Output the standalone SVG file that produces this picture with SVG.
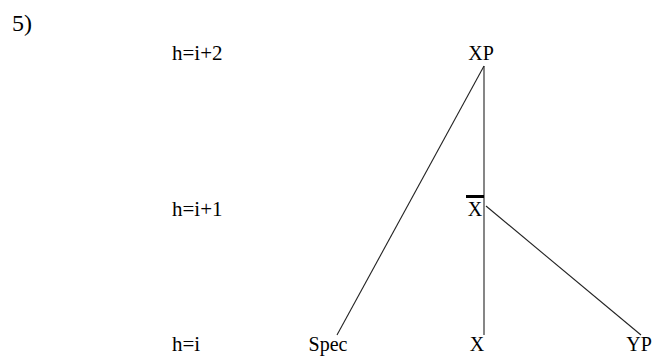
<svg xmlns="http://www.w3.org/2000/svg" width="655" height="356" viewBox="0 0 655 356">
<style>
text{font-family:"Liberation Serif","Times New Roman",serif;fill:#000}
.lvl{font-size:21px}
.n{font-size:20px;text-anchor:middle}
.e{stroke:#222;stroke-width:1.1;fill:none}
</style>
<rect width="655" height="356" fill="#fff"/>
<text x="12" y="31" style="font-size:24px">5)</text>
<g id="levels">
<text class="lvl" x="172" y="60">h=i+2</text>
<text class="lvl" x="172" y="216">h=i+1</text>
<text class="lvl" x="172" y="351">h=i</text>
</g>
<g id="connectors">
<line class="e" x1="484" y1="66" x2="484" y2="335"/>
<line class="e" x1="484" y1="66" x2="337" y2="335"/>
<line class="e" x1="486" y1="206" x2="641" y2="335"/>
</g>
<g id="XP"><text class="n" x="481" y="60">XP</text></g>
<g id="Xbar"><rect x="466" y="195" width="18" height="3" fill="#000"/><text class="n" x="475" y="216">X</text></g>
<g id="Spec"><text class="n" x="328" y="351">Spec</text></g>
<g id="X"><text class="n" x="477" y="351">X</text></g>
<g id="YP"><text class="n" x="639" y="351">YP</text></g>
</svg>
